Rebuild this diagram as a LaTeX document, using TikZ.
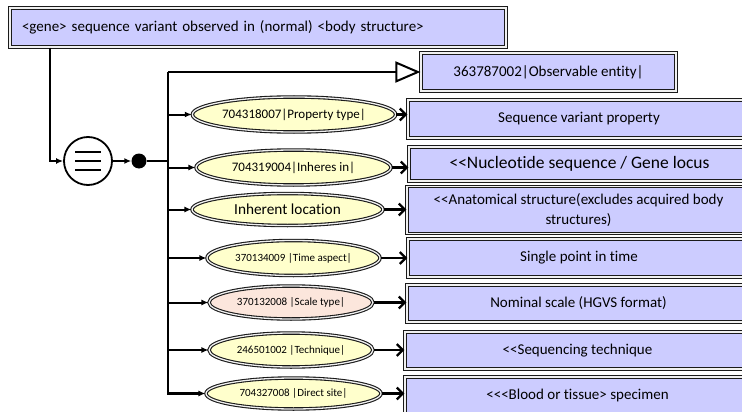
\documentclass[tikz,border=0pt]{standalone}
\usepackage{fontspec}
\setmainfont{Carlito}[Ligatures={TeXOff,CommonOff}]
\usetikzlibrary{arrows.meta,shapes.geometric}

\definecolor{conceptfill}{HTML}{CCCCFF}
\definecolor{attrfill}{HTML}{FFFFCC}
\definecolor{scalefill}{HTML}{FCE6DC}
\definecolor{edgecol}{HTML}{1A1A1A}

\tikzset{
  dbl/.style={draw=edgecol, line width=1.1pt, double=white!88!gray, double distance=1.3pt},
  conceptbox/.style={dbl, fill=conceptfill, rectangle, inner sep=0pt, align=center,
    font=\fontsize{15}{20}\selectfont},
  attrell/.style={dbl, fill=attrfill, ellipse, inner sep=0pt, align=center},
  bus/.style={line width=2.3pt, line join=miter},
  branch/.style={line width=2pt, -{Latex[length=7pt,width=6pt]}},
  relarrow/.style={line width=2.3pt, -{Straight Barb[length=6pt,width=12pt,line width=2.3pt]}},
  isa/.style={line width=2pt, -{Triangle[open,length=25pt,width=21pt,line width=2pt]}},
}

\begin{document}
\begin{tikzpicture}[x=1pt,y=-1pt]
\path[use as bounding box] (0,0) rectangle (742,412);
\clip (0,0) rectangle (742,412);

% defined concept
\node[dbl, fill=conceptfill, rectangle, inner xsep=12pt, inner ysep=0pt,
      minimum height=39pt, text width=472pt, align=left,
      font=\fontsize{15}{18}\selectfont] (top) at (258,27.5)
  {<gene> sequence variant observed in (normal) <body structure>};

% definition status and conjunction
\node[circle, draw=black, line width=1.8pt, fill=white, minimum size=48pt, inner sep=0pt] (circ) at (88,161) {};
\foreach \dy in {-9,0,9}
  \draw[line width=1.6pt] ([shift={(-13pt,\dy pt)}]circ.center) -- ++(26pt,0);
\node[circle, fill=black, minimum size=15pt, inner sep=0pt] (dot) at (139,161) {};
\coordinate (bustop) at (168,72);

% parent concept
\node[conceptbox, minimum width=255pt, minimum height=38pt] (obs) at (548.5,72)
  {363787002|Observable entity|};

% attribute names
\node[attrell, minimum width=200pt, minimum height=35pt, font=\fontsize{13}{15}\selectfont] (e1) at (294,114.5) {704318007|Property type|};
\node[attrell, minimum width=195pt, minimum height=35pt, font=\fontsize{13}{15}\selectfont] (e2) at (293.5,167.5) {704319004|Inheres in|};
\node[attrell, minimum width=191pt, minimum height=32pt, font=\fontsize{15.3}{18}\selectfont] (e3) at (287.5,209.5) {Inherent location};
\node[attrell, minimum width=173pt, minimum height=35pt, font=\fontsize{11}{13}\selectfont] (e4) at (293.5,258) {370134009 |Time aspect|};
\node[attrell, fill=scalefill, minimum width=164pt, minimum height=33pt, font=\fontsize{11}{13}\selectfont] (e5) at (291,302.5) {370132008 |Scale type|};
\node[attrell, minimum width=164pt, minimum height=34pt, font=\fontsize{11}{13}\selectfont] (e6) at (291,350) {246501002 |Technique|};
\node[attrell, minimum width=175pt, minimum height=31pt, font=\fontsize{11}{13}\selectfont] (e7) at (293.5,393.5) {704327008 |Direct site|};

% attribute values
\node[conceptbox, minimum width=342pt, minimum height=38pt] (b1) at (579,119) {Sequence variant property};
\node[conceptbox, minimum width=341pt, minimum height=34pt, font=\fontsize{17.5}{20}\selectfont] (b2) at (579.5,164) {<<Nucleotide sequence / Gene locus};
\node[conceptbox, minimum width=343pt, minimum height=47pt] (b3) at (578.5,210) {<<Anatomical structure(excludes acquired body\\structures)};
\node[conceptbox, minimum width=342pt, minimum height=38pt] (b4) at (579,258) {Single point in time};
\node[conceptbox, minimum width=343pt, minimum height=37pt] (b5) at (578.5,303.5) {Nominal scale (HGVS format)};
\node[conceptbox, minimum width=345pt, minimum height=37pt] (b6) at (577.5,350.5) {<<Sequencing technique};
\node[conceptbox, minimum width=345pt, minimum height=37pt] (b7) at (577.5,395.5) {<<<Blood or tissue> specimen};

% connectors
\draw[branch, line join=miter] ([xshift=41pt]top.south west) |- (circ.west);
\draw[branch] (circ.east) -- (dot.west);
\draw[bus] (dot.east) -- (dot -| bustop);
\draw[bus, -{Latex[length=7pt,width=6pt]}] (bustop) |- (e7.west);
\draw[isa] (bustop) -- (obs.west);
\foreach \i in {1,...,6}
  \draw[branch] (e\i.west -| bustop) -- (e\i.west);
\foreach \i in {1,...,7}
  \draw[relarrow] (e\i.east) -- (e\i.east -| b\i.west);
\end{tikzpicture}
\end{document}
